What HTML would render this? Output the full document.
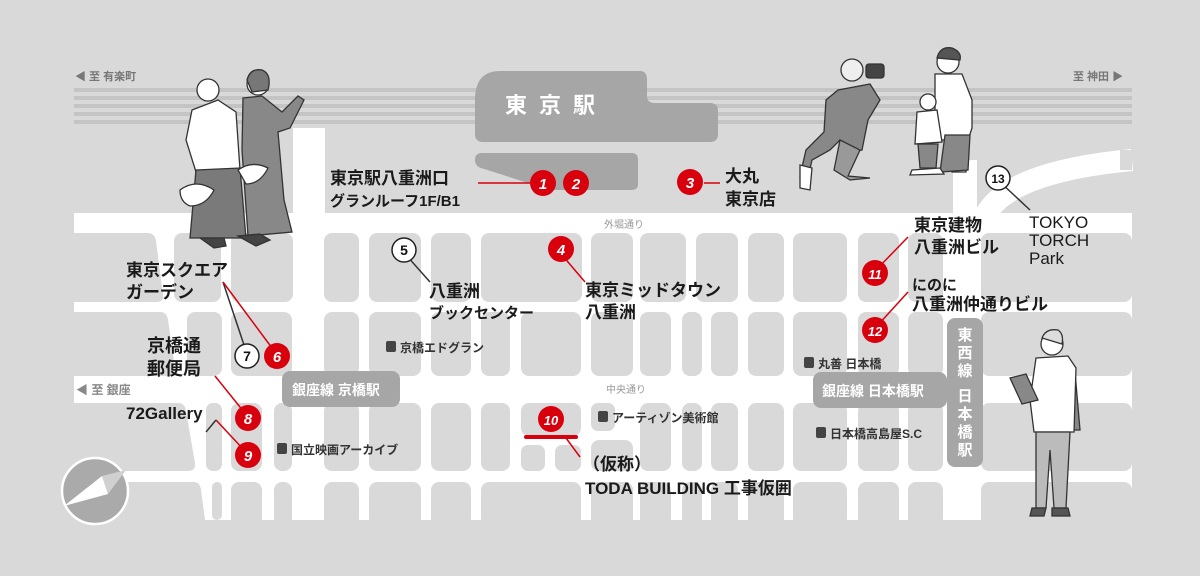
<!DOCTYPE html>
<html><head><meta charset="utf-8"><style>
html,body{margin:0;padding:0;background:#d9d9d9;}
svg{display:block}
text{font-family:"Liberation Sans","Noto Sans CJK JP",sans-serif;}
.lb{font-size:17px;font-weight:700;fill:#1a1a1a;}
.sm{font-size:12px;font-weight:700;fill:#333;}
.rd{fill:#d9000d}
.num{font-size:15px;font-weight:700;fill:#fff;font-style:italic;text-anchor:middle}
.numk{font-size:14px;font-weight:700;fill:#111;text-anchor:middle}
</style></head><body>
<svg width="1200" height="576" viewBox="0 0 1200 576" xmlns="http://www.w3.org/2000/svg">
<rect width="1200" height="576" fill="#d9d9d9"/>
<!-- tracks -->
<g fill="#c4c4c4">
<rect x="74" y="88" width="1058" height="4"/><rect x="74" y="96" width="1058" height="4"/>
<rect x="74" y="104" width="1058" height="4"/><rect x="74" y="112" width="1058" height="4"/>
<rect x="74" y="120" width="1058" height="4"/>
</g>
<!-- white road area -->
<rect x="74" y="213" width="1058" height="307" fill="#fff"/>
<rect x="293" y="128" width="32" height="90" fill="#fff"/>
<rect x="953" y="160" width="24" height="60" fill="#fff"/>
<path d="M984 218 Q1005 172 1132 160" stroke="#fff" stroke-width="22" fill="none"/>
<rect x="1120" y="150" width="12" height="20" fill="#d9d9d9"/>
<!-- blocks -->
<g fill="#d9d9d9">
<!-- left slanted -->
<path d="M74 233 H147 Q155 233 156 241 L163 295 Q164 302 156 302 H74Z"/>
<path d="M74 312 H160 Q167 312 168 320 L175 368 Q176 376 168 376 H74Z"/>
<path d="M74 403 H178 Q185 403 186 411 L195 463 Q196 471 188 471 H74Z"/>
<path d="M74 482 H194 Q200 482 201 490 L205 520 H74Z"/>
<!-- row A -->
<rect x="174" y="233" width="47" height="69" rx="8"/><rect x="231" y="233" width="62" height="69" rx="8"/>
<rect x="324" y="233" width="35" height="69" rx="8"/><rect x="369" y="233" width="52" height="69" rx="8"/>
<rect x="431" y="233" width="40" height="69" rx="8"/><rect x="481" y="233" width="101" height="69" rx="8"/>
<rect x="591" y="233" width="42" height="69" rx="8"/><rect x="640" y="233" width="46" height="69" rx="8"/>
<rect x="696" y="233" width="42" height="69" rx="8"/><rect x="748" y="233" width="36" height="69" rx="8"/>
<rect x="793" y="233" width="54" height="69" rx="8"/><rect x="858" y="233" width="41" height="69" rx="8"/>
<rect x="908" y="233" width="35" height="69" rx="8"/><rect x="981" y="233" width="151" height="69" rx="8"/>
<!-- row B -->
<rect x="187" y="312" width="35" height="64" rx="8"/><rect x="231" y="312" width="61" height="64" rx="8"/>
<rect x="324" y="312" width="35" height="64" rx="8"/><rect x="369" y="312" width="52" height="64" rx="8"/>
<rect x="431" y="312" width="40" height="64" rx="8"/><rect x="481" y="312" width="29" height="64" rx="8"/>
<rect x="521" y="312" width="60" height="64" rx="8"/><rect x="591" y="312" width="42" height="64" rx="8"/>
<rect x="640" y="312" width="31" height="64" rx="8"/><rect x="682" y="312" width="20" height="64" rx="8"/>
<rect x="711" y="312" width="27" height="64" rx="8"/><rect x="748" y="312" width="36" height="64" rx="8"/>
<rect x="793" y="312" width="54" height="64" rx="8"/><rect x="858" y="312" width="41" height="64" rx="8"/>
<rect x="908" y="312" width="35" height="64" rx="8"/><rect x="981" y="312" width="151" height="64" rx="8"/>
<!-- row C -->
<rect x="206" y="403" width="16" height="68" rx="7"/><rect x="231" y="403" width="31" height="68" rx="8"/>
<rect x="274" y="403" width="18" height="68" rx="8"/><rect x="324" y="403" width="35" height="68" rx="8"/>
<rect x="369" y="403" width="52" height="68" rx="8"/><rect x="431" y="403" width="40" height="68" rx="8"/>
<rect x="481" y="403" width="29" height="68" rx="8"/><rect x="521" y="403" width="60" height="33" rx="8"/>
<rect x="521" y="445" width="24" height="26" rx="7"/><rect x="555" y="445" width="26" height="26" rx="7"/>
<rect x="591" y="403" width="24" height="28" rx="7"/><rect x="591" y="440" width="42" height="31" rx="8"/>
<rect x="640" y="403" width="31" height="68" rx="8"/><rect x="682" y="403" width="20" height="68" rx="8"/>
<rect x="711" y="403" width="27" height="68" rx="8"/><rect x="748" y="403" width="36" height="68" rx="8"/>
<rect x="793" y="403" width="54" height="68" rx="8"/><rect x="858" y="403" width="41" height="68" rx="8"/>
<rect x="908" y="403" width="35" height="68" rx="8"/><rect x="981" y="403" width="151" height="68" rx="8"/>
<!-- row D -->
<rect x="212" y="482" width="10" height="38" rx="5"/><rect x="231" y="482" width="31" height="45" rx="8"/>
<rect x="274" y="482" width="18" height="45" rx="8"/><rect x="324" y="482" width="35" height="45" rx="8"/>
<rect x="369" y="482" width="52" height="45" rx="8"/><rect x="431" y="482" width="40" height="45" rx="8"/>
<rect x="481" y="482" width="100" height="45" rx="8"/><rect x="591" y="482" width="42" height="45" rx="8"/>
<rect x="640" y="482" width="31" height="45" rx="8"/><rect x="682" y="482" width="20" height="45" rx="8"/>
<rect x="711" y="482" width="27" height="45" rx="8"/><rect x="748" y="482" width="36" height="45" rx="8"/>
<rect x="793" y="482" width="54" height="45" rx="8"/><rect x="858" y="482" width="41" height="45" rx="8"/>
<rect x="908" y="482" width="35" height="45" rx="8"/><rect x="981" y="482" width="151" height="45" rx="8"/>
</g>
<rect x="0" y="520" width="1200" height="56" fill="#d9d9d9"/>
<!-- station -->
<path d="M500 71 H640 Q647 71 647 80 V96 Q647 103 655 103 H710 Q718 103 718 111 V134 Q718 142 710 142 H483 Q475 142 475 134 V100 Q475 71 500 71Z" fill="#a6a6a6"/>
<path d="M482 153 H632 Q638 153 638 160 V184 Q638 190 632 190 H550 L481 168 Q475 166 475 160 Q475 153 482 153Z" fill="#a6a6a6"/>
<text x="505" y="113" style="font-size:22px;font-weight:700;fill:#fff;letter-spacing:12px">東京駅</text>
<!-- direction labels -->
<text x="75" y="80" class="sm" style="fill:#777;font-size:11px">◀ 至 有楽町</text>
<text x="1073" y="80" class="sm" style="fill:#777;font-size:11px">至 神田 ▶</text>
<text x="76" y="394" class="sm" style="fill:#888;font-size:12px">◀ 至 銀座</text>
<text x="604" y="228" class="sm" style="fill:#999;font-size:10px;font-weight:400">外堀通り</text>
<text x="606" y="393" class="sm" style="fill:#999;font-size:10px;font-weight:400">中央通り</text>
<!-- station boxes -->
<rect x="282" y="371" width="118" height="36" rx="8" fill="#a6a6a6"/>
<text x="292" y="395" style="font-size:14px;font-weight:700;fill:#fff">銀座線 京橋駅</text>
<rect x="813" y="372" width="134" height="36" rx="8" fill="#a6a6a6"/>
<rect x="947" y="318" width="36" height="149" rx="8" fill="#a6a6a6"/>
<text x="822" y="396" style="font-size:14px;font-weight:700;fill:#fff">銀座線 日本橋駅</text>
<g style="font-size:15px;font-weight:700;fill:#fff" text-anchor="middle">
<text x="965" y="340">東</text><text x="965" y="358">西</text><text x="965" y="376">線</text>
<text x="965" y="401">日</text><text x="965" y="419">本</text><text x="965" y="437">橋</text><text x="965" y="455">駅</text>
</g>
<!-- landmark squares -->
<g fill="#444">
<rect x="386" y="341" width="10" height="11" rx="2"/><rect x="277" y="443" width="10" height="11" rx="2"/>
<rect x="598" y="411" width="10" height="11" rx="2"/><rect x="804" y="357" width="10" height="11" rx="2"/>
<rect x="816" y="427" width="10" height="11" rx="2"/>
</g>
<text x="400" y="352" class="sm">京橋エドグラン</text>
<text x="291" y="454" class="sm">国立映画アーカイブ</text>
<text x="612" y="422" class="sm">アーティゾン美術館</text>
<text x="818" y="368" class="sm">丸善 日本橋</text>
<text x="830" y="438" class="sm">日本橋高島屋S.C</text>
<!-- leader lines -->
<g stroke-width="1.5" fill="none">
<line x1="478" y1="183" x2="540" y2="183" stroke="#d9000d"/>
<line x1="704" y1="183" x2="720" y2="183" stroke="#d9000d"/>
<line x1="562" y1="255" x2="585" y2="282" stroke="#d9000d"/>
<line x1="406" y1="255" x2="430" y2="282" stroke="#333"/>
<line x1="223" y1="282" x2="245" y2="348" stroke="#333"/>
<line x1="223" y1="282" x2="272" y2="348" stroke="#d9000d"/>
<line x1="215" y1="376" x2="244" y2="412" stroke="#d9000d"/>
<line x1="216" y1="420" x2="244" y2="450" stroke="#d9000d"/>
<line x1="216" y1="420" x2="206" y2="432" stroke="#333"/>
<line x1="566" y1="438" x2="580" y2="457" stroke="#d9000d"/>
<line x1="878" y1="268" x2="908" y2="237" stroke="#d9000d"/>
<line x1="878" y1="325" x2="908" y2="292" stroke="#d9000d"/>
<line x1="1000" y1="182" x2="1030" y2="210" stroke="#333"/>
</g>
<rect x="524" y="435" width="54" height="4" rx="2" fill="#d9000d"/>
<!-- markers -->
<g>
<circle cx="543" cy="183" r="13" class="rd"/><text x="543" y="189" class="num">1</text>
<circle cx="576" cy="183" r="13" class="rd"/><text x="576" y="189" class="num">2</text>
<circle cx="690" cy="182" r="13" class="rd"/><text x="690" y="188" class="num">3</text>
<circle cx="561" cy="249" r="13" class="rd"/><text x="561" y="255" class="num">4</text>
<circle cx="404" cy="250" r="12" fill="#fff" stroke="#222" stroke-width="1.5"/><text x="404" y="255" class="numk">5</text>
<circle cx="277" cy="356" r="13" class="rd"/><text x="277" y="362" class="num">6</text>
<circle cx="247" cy="356" r="12" fill="#fff" stroke="#222" stroke-width="1.5"/><text x="247" y="361" class="numk">7</text>
<circle cx="248" cy="418" r="13" class="rd"/><text x="248" y="424" class="num">8</text>
<circle cx="248" cy="455" r="13" class="rd"/><text x="248" y="461" class="num">9</text>
<circle cx="551" cy="419" r="13" class="rd"/><text x="551" y="425" class="num" style="font-size:13px">10</text>
<circle cx="875" cy="273" r="13" class="rd"/><text x="875" y="279" class="num" style="font-size:13px">11</text>
<circle cx="875" cy="330" r="13" class="rd"/><text x="875" y="336" class="num" style="font-size:13px">12</text>
<circle cx="998" cy="178" r="12" fill="#fff" stroke="#222" stroke-width="1.5"/><text x="998" y="183" class="numk" style="font-size:12px">13</text>
</g>
<!-- labels -->
<text x="330" y="184" class="lb">東京駅八重洲口</text>
<text x="330" y="206" class="lb" style="font-size:15px">グランルーフ1F/B1</text>
<text x="725" y="182" class="lb">大丸</text><text x="725" y="205" class="lb">東京店</text>
<text x="429" y="297" class="lb">八重洲</text><text x="429" y="318" class="lb" style="font-size:15px">ブックセンター</text>
<text x="585" y="296" class="lb">東京ミッドタウン</text><text x="585" y="318" class="lb">八重洲</text>
<text x="126" y="276" class="lb">東京スクエア</text><text x="126" y="298" class="lb">ガーデン</text>
<text x="147" y="352" class="lb" style="font-size:18px">京橋通</text><text x="147" y="375" class="lb" style="font-size:18px">郵便局</text>
<text x="126" y="419" class="lb">72Gallery</text>
<text x="583" y="470" class="lb">（仮称）</text>
<text x="585" y="494" class="lb">TODA BUILDING 工事仮囲</text>
<text x="914" y="231" class="lb">東京建物</text><text x="914" y="253" class="lb">八重洲ビル</text>
<text x="912" y="290" class="lb" style="font-size:15px">にのに</text><text x="912" y="310" class="lb">八重洲仲通りビル</text>
<text x="1029" y="228" class="lb" style="font-weight:400">TOKYO</text>
<text x="1029" y="246" class="lb" style="font-weight:400">TORCH</text>
<text x="1029" y="264" class="lb" style="font-weight:400">Park</text>
<!-- compass -->
<circle cx="95" cy="491" r="33" fill="#aaa" stroke="#fff" stroke-width="2.5"/>
<polygon points="64,506 102,476 108,494" fill="#fff"/>
<polygon points="102,476 126,470 108,494" fill="#d0d0d0"/>
<!-- figures: two women -->
<g stroke="#333" stroke-width="1.3">
<path d="M243 98 L262 96 L282 112 L298 96 L304 100 L290 128 L278 132 L284 200 L292 232 L248 236 L242 150Z" fill="#888"/>
<circle cx="258" cy="84" r="11" fill="#fff"/>
<path d="M247 80 Q250 68 262 70 Q272 74 268 90 L252 92Z" fill="#777"/>
<path d="M192 110 L218 100 L236 112 L240 170 L230 175 L196 172 L186 140Z" fill="#fff"/>
<path d="M196 170 L240 168 L246 238 L190 238Z" fill="#7a7a7a"/>
<circle cx="208" cy="90" r="11" fill="#fff"/>
<path d="M180 190 Q196 178 214 190 Q206 206 190 206 Q180 202 180 190Z" fill="#fff"/>
<path d="M238 170 Q252 160 268 168 Q260 184 246 184Z" fill="#fff"/>
<path d="M200 238 L214 248 L226 246 L224 238Z M238 236 L256 246 L270 240 L260 234Z" fill="#444"/>
</g>
<!-- photographer -->
<g stroke="#333" stroke-width="1.3">
<path d="M838 90 L870 84 L880 100 L868 120 L862 150 L850 152 L840 140 L830 150 L812 160 L808 178 L800 176 L806 150 L824 132 L826 100Z" fill="#888"/>
<path d="M840 140 L860 150 L848 176 L870 178 L850 180 L834 170Z" fill="#999"/>
<circle cx="852" cy="70" r="11" fill="#eee"/>
<rect x="866" y="64" width="18" height="14" rx="3" fill="#444"/>
<path d="M800 165 L812 168 L810 190 L800 188Z" fill="#fff"/>
</g>
<!-- family -->
<g stroke="#333" stroke-width="1.3">
<path d="M935 74 L962 74 L972 100 L972 128 L968 140 L966 172 L952 172 L948 140 L940 140 L935 118Z" fill="#fff"/>
<path d="M945 135 L970 135 L968 170 L940 172Z" fill="#888"/>
<circle cx="948" cy="62" r="11" fill="#fff"/>
<path d="M937 58 Q940 46 952 48 Q962 52 960 60Z" fill="#555"/>
<path d="M917 112 L937 110 L942 142 L915 144Z" fill="#fff"/>
<path d="M918 144 L938 144 L936 168 L920 168Z" fill="#888"/>
<circle cx="928" cy="102" r="8" fill="#fff"/>
<path d="M912 170 L940 168 L944 174 L910 175Z" fill="#fff"/>
</g>
<!-- man with tablet -->
<g stroke="#333" stroke-width="1.3">
<path d="M1062 368 L1075 372 L1080 430 L1070 430Z" fill="#888"/>
<path d="M1036 358 L1068 356 L1076 368 L1074 432 L1034 432 L1030 400Z" fill="#fff"/>
<path d="M1036 432 L1070 432 L1066 508 L1054 508 L1050 450 L1046 508 L1036 508Z" fill="#bbb"/>
<circle cx="1052" cy="344" r="11" fill="#fff"/>
<path d="M1042 338 Q1046 328 1058 330 Q1064 334 1062 344Z" fill="#ddd"/>
<path d="M1010 378 L1026 374 L1038 400 L1022 404Z" fill="#888"/>
<path d="M1032 508 L1046 508 L1044 516 L1030 516Z M1052 508 L1068 508 L1070 516 L1052 516Z" fill="#555"/>
</g>
</svg>
</body></html>
